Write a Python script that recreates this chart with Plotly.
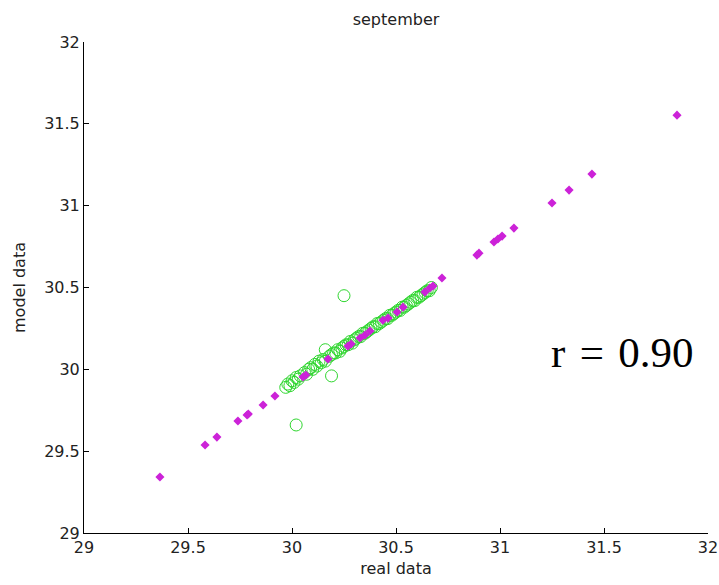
import plotly.graph_objects as go

# Model vs. observed values for September
fit_real = [29.365, 29.582, 29.639, 29.740, 29.784, 29.790, 29.861, 29.918,
            30.053, 30.067, 30.173, 30.269, 30.284, 30.327, 30.351, 30.375,
            30.437, 30.462, 30.505, 30.534, 30.639, 30.663, 30.678, 30.721,
            30.889, 30.899, 30.971, 30.990, 31.010, 31.067, 31.250, 31.332,
            31.442, 31.851]
fit_model = [29.342, 29.538, 29.586, 29.684, 29.721, 29.727, 29.782, 29.837,
             29.953, 29.965, 30.063, 30.142, 30.155, 30.191, 30.210, 30.234,
             30.300, 30.313, 30.350, 30.380, 30.472, 30.497, 30.509, 30.558,
             30.698, 30.710, 30.778, 30.796, 30.814, 30.863, 31.016, 31.095,
             31.193, 31.553]

obs_real = [29.97, 29.98, 29.99, 30.00, 30.01, 30.02, 30.03, 30.04, 30.06, 30.07,
            30.08, 30.09, 30.10, 30.11, 30.12, 30.13, 30.14, 30.15, 30.16, 30.18,
            30.19, 30.20, 30.21, 30.22, 30.23, 30.24, 30.25, 30.26, 30.27, 30.28,
            30.29, 30.30, 30.31, 30.32, 30.33, 30.34, 30.35, 30.36, 30.37, 30.38,
            30.39, 30.40, 30.41, 30.42, 30.43, 30.44, 30.45, 30.46, 30.47, 30.48,
            30.49, 30.50, 30.51, 30.52, 30.53, 30.54, 30.55, 30.56, 30.57, 30.58,
            30.59, 30.60, 30.61, 30.62, 30.63, 30.64, 30.65, 30.66, 30.67,
            30.25, 30.16, 30.19, 30.02]
obs_model = [29.89, 29.91, 29.90, 29.93, 29.92, 29.95, 29.94, 29.96, 29.98, 29.97,
             30.00, 30.01, 30.00, 30.03, 30.02, 30.05, 30.04, 30.06, 30.05, 30.08,
             30.09, 30.10, 30.10, 30.12, 30.11, 30.13, 30.14, 30.15, 30.15, 30.17,
             30.16, 30.18, 30.19, 30.20, 30.20, 30.22, 30.22, 30.23, 30.24, 30.25,
             30.26, 30.26, 30.28, 30.28, 30.29, 30.30, 30.31, 30.31, 30.33, 30.33,
             30.34, 30.35, 30.36, 30.36, 30.38, 30.38, 30.39, 30.40, 30.41, 30.42,
             30.42, 30.44, 30.44, 30.45, 30.46, 30.47, 30.48, 30.48, 30.50,
             30.45, 30.12, 29.96, 29.66]

ticks = [29, 29.5, 30, 30.5, 31, 31.5, 32]
tick_text = ["29", "29.5", "30", "30.5", "31", "31.5", "32"]

FONT = "DejaVu Sans"

fig = go.Figure()
fig.add_trace(go.Scatter(
    x=obs_real, y=obs_model, mode="markers",
    marker=dict(symbol="circle-open", size=12, color="#2fd62f",
                line=dict(width=1, color="#2fd62f")),
    showlegend=False,
))
fig.add_trace(go.Scatter(
    x=fit_real, y=fit_model, mode="markers",
    marker=dict(symbol="diamond", size=7, color="#cc22d8"),
    showlegend=False,
))

axis_common = dict(
    range=[29, 32], tickvals=ticks, ticktext=tick_text,
    showline=True, linecolor="black", linewidth=1, mirror=False,
    ticks="inside", ticklen=5, tickcolor="black", tickwidth=1,
    showgrid=False, zeroline=False, automargin=False,
    tickfont=dict(family=FONT, size=16, color="#222222"),
)

fig.update_layout(
    width=719, height=585,
    margin=dict(l=84, r=11, t=42, b=52),
    paper_bgcolor="white", plot_bgcolor="white",
    title=dict(text="september", x=0.5, xref="paper",
               y=1 - 19 / 585, yref="container", yanchor="middle",
               font=dict(family=FONT, size=16, color="#222222")),
    xaxis=dict(**axis_common,
               title=dict(text="real data", standoff=6,
                          font=dict(family=FONT, size=16, color="#222222"))),
    yaxis=dict(**axis_common,
               title=dict(text="model data", standoff=14,
                          font=dict(family=FONT, size=16, color="#222222"))),
    annotations=[dict(
        text="r\u2004=\u20040.90", x=31.589, y=30.103, xref="x", yref="y",
        showarrow=False, xanchor="center", yanchor="middle",
        font=dict(family="Liberation Serif", size=43, color="black"),
    )],
)

fig.write_html("out.html")
